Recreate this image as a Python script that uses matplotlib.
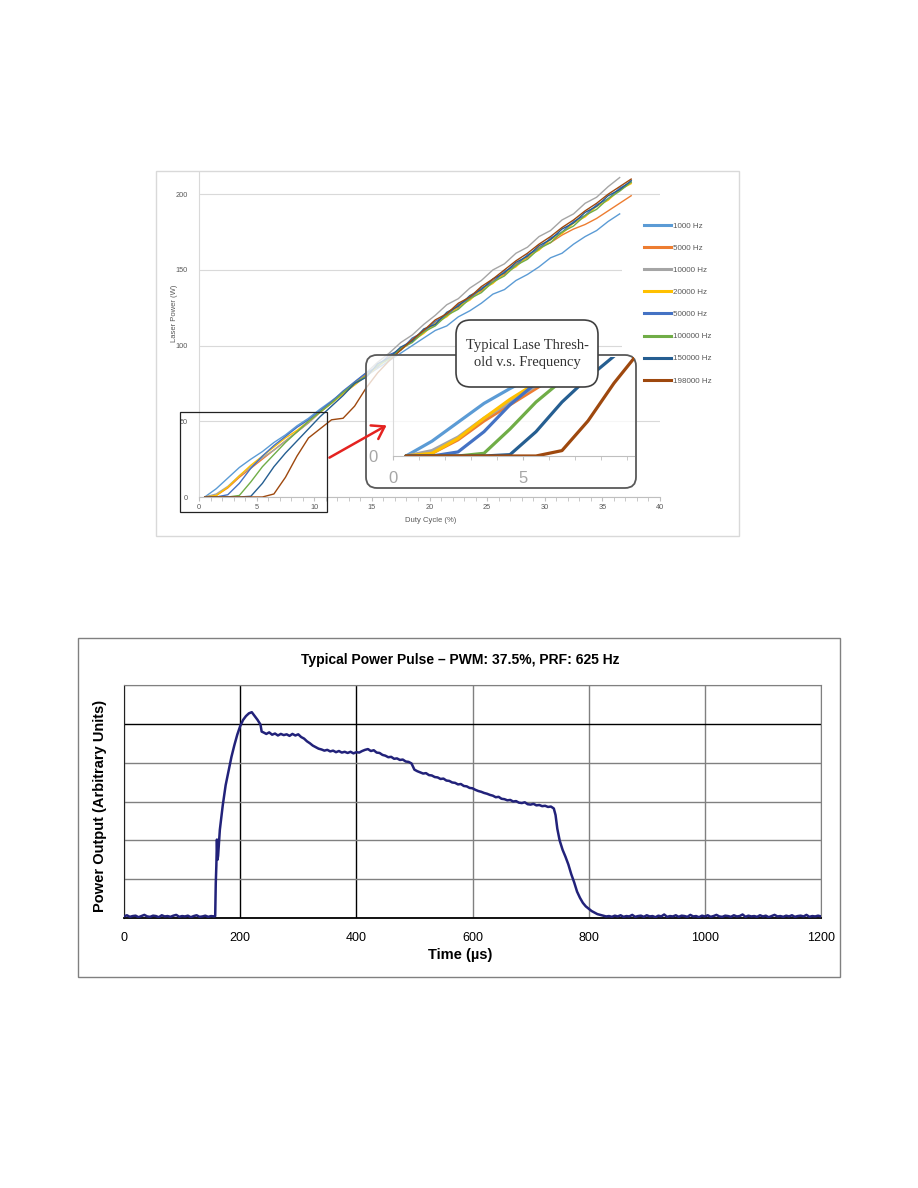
import numpy as np
import matplotlib
matplotlib.use("Agg")
import matplotlib.pyplot as plt
from matplotlib.patches import Rectangle, FancyBboxPatch, FancyArrowPatch

plt.rcParams['font.family'] = ['Liberation Sans', 'DejaVu Sans']

# ---------------- data: lase threshold vs frequency ----------------
duty = [0.5, 1.5, 2.5, 3.5, 4.5, 5.5, 6.5, 7.5, 8.5, 9.5, 10.5, 11.5, 12.5,
        13.5, 14.5, 15.5, 16.5, 17.5, 18.5, 19.5, 20.5, 21.5, 22.5, 23.5,
        24.5, 25.5, 26.5, 27.5, 28.5, 29.5, 30.5, 31.5, 32.5, 33.5, 34.5,
        35.5, 36.5, 37.5]

hz1000 = [0, 5.5, 12.5, 19.5, 25, 30, 36, 41, 47, 52, 58, 63.5, 69, 74, 80,
          85, 90, 95, 100, 105, 110, 113, 119, 123, 128, 134, 137, 143, 147,
          152, 158, 161, 167, 172, 176, 182, 187]
hz5000 = [0, 1, 6, 13, 19, 25, 31, 37, 43, 49, 56, 62, 69, 75, 81, 86, 93, 98,
          103, 110, 114, 121, 125, 132, 136, 143, 147, 154, 158, 165, 168, 173,
          177, 180, 184, 189, 194, 199]
hz10000 = [0, 2, 7, 14, 20, 26, 31, 37, 43, 49, 56, 63, 69, 76, 82, 89, 95, 102,
           107, 114, 120, 127, 131, 138, 143, 150, 154, 161, 165, 172, 176, 183,
           187, 194, 198, 205, 211]
hz20000 = [0, 1, 6.5, 14, 21, 27, 33, 39, 44, 50, 56, 62, 68, 74, 80, 86, 92, 97,
           103, 108, 115, 119, 126, 130, 137, 141, 148, 152, 159, 163, 170, 174,
           181, 185, 192, 196, 203, 207]
hz50000 = [0, 0, 1.5, 9, 19, 27, 34, 40, 46, 51, 57, 63, 70, 76, 82, 86, 94, 97,
           105, 109, 116, 120, 127, 131, 138, 142, 149, 153, 160, 164, 171, 175,
           182, 186, 193, 197, 204, 208]
hz100000 = [0, 0, 0, 1, 10, 20, 28, 36, 43, 50, 56, 62, 69, 75, 80, 87, 91, 98,
            102, 109, 113, 120, 124, 131, 135, 142, 146, 153, 157, 164, 168, 175,
            179, 186, 190, 197, 202, 208]
hz150000 = [0, 0, 0, 0, 0.5, 9, 20, 29, 37, 45, 53, 60, 67, 75, 79, 88, 92, 99,
            103, 111, 114, 122, 126, 133, 137, 144, 148, 155, 159, 166, 170, 177,
            181, 188, 192, 199, 203, 209]
hz198000 = [0, 0, 0, 0, 0, 0, 2, 13, 27, 39, 45, 51, 52, 60, 72, 82, 90, 97,
            104, 110, 117, 121, 128, 132, 139, 144, 150, 156, 161, 167, 172, 178,
            183, 189, 194, 200, 205, 210]

labels = ['1000 Hz', '5000 Hz', '10000 Hz', '20000 Hz', '50000 Hz',
          '100000 Hz', '150000 Hz', '198000 Hz']
series = [hz1000, hz5000, hz10000, hz20000, hz50000, hz100000, hz150000, hz198000]
colors = ['#5B9BD5', '#ED7D31', '#A5A5A5', '#FFC000', '#4472C4',
          '#70AD47', '#255E91', '#9E480E']

# ---------------- data: typical power pulse ----------------
p_pre = [0.04, 0.07, 0.03, 0.05, 0.06, 0.02, 0.05, 0.08, 0.04, 0.03, 0.06, 0.05,
         0.02, 0.07, 0.04, 0.05, 0.03, 0.06, 0.08, 0.03, 0.05, 0.04, 0.06, 0.02,
         0.05, 0.07, 0.03, 0.04, 0.06, 0.03, 0.05, 0.04]          # 0..155 us
t_rise = [157, 158, 159, 160, 161, 162, 165, 170, 175, 180, 185, 190, 195, 200,
          205, 210, 215, 220, 225, 230, 235, 237]
p_rise = [0.05, 0.9, 1.35, 2.02, 1.5, 1.6, 2.27, 2.9, 3.42, 3.78, 4.15, 4.45,
          4.72, 4.94, 5.10, 5.20, 5.27, 5.30, 5.20, 5.10, 4.98, 4.80]
p_top = [4.78, 4.74, 4.78, 4.72, 4.75, 4.70, 4.74, 4.71, 4.73, 4.69, 4.74, 4.70,
         4.73, 4.66, 4.62, 4.55, 4.50, 4.44, 4.40, 4.36, 4.34, 4.31, 4.33, 4.29,
         4.31, 4.27, 4.30, 4.26, 4.28, 4.25, 4.28, 4.24, 4.27, 4.26, 4.30, 4.33,
         4.35, 4.30, 4.32, 4.26, 4.25, 4.20, 4.18, 4.14, 4.15, 4.10, 4.11, 4.07,
         4.08, 4.03, 4.02, 3.98, 3.82, 3.78, 3.75, 3.72, 3.73, 3.68, 3.67, 3.63,
         3.62, 3.58, 3.59, 3.54, 3.53, 3.49, 3.48, 3.44, 3.45, 3.40, 3.39, 3.35,
         3.34, 3.30, 3.27, 3.25, 3.22, 3.20, 3.17, 3.15, 3.11, 3.12, 3.07, 3.06,
         3.03, 3.04, 3.00, 3.01, 2.97, 2.96, 2.98, 2.93, 2.92, 2.94, 2.90, 2.91,
         2.88, 2.89, 2.86, 2.87, 2.82]                              # 240..740 us
t_fall = [743, 746, 750, 755, 760, 765, 770, 775, 780, 785, 790, 795, 800, 805,
          810, 815, 820, 825, 830]
p_fall = [2.65, 2.30, 2.00, 1.76, 1.58, 1.38, 1.13, 0.92, 0.68, 0.52, 0.39, 0.30,
          0.24, 0.18, 0.14, 0.10, 0.08, 0.06, 0.04]
p_post = [0.05, 0.03, 0.06, 0.04, 0.07, 0.03, 0.05, 0.04, 0.08, 0.03, 0.05, 0.06,
          0.03, 0.07, 0.04, 0.05, 0.02, 0.06, 0.04, 0.09, 0.03, 0.05, 0.04, 0.07,
          0.03, 0.06, 0.05, 0.03, 0.08, 0.04, 0.05, 0.02, 0.06, 0.04, 0.07, 0.03,
          0.05, 0.08, 0.04, 0.03, 0.06, 0.05, 0.03, 0.07, 0.04, 0.05, 0.09, 0.03,
          0.06, 0.04, 0.05, 0.03, 0.07, 0.04, 0.06, 0.02, 0.05, 0.08, 0.04, 0.05,
          0.03, 0.06, 0.04, 0.07, 0.03, 0.05, 0.06, 0.04, 0.08, 0.03, 0.05, 0.04,
          0.06, 0.04]                                                # 835..1200 us

t_us = (list(range(0, 160, 5)) + t_rise + list(range(240, 745, 5)) + t_fall
        + list(range(835, 1205, 5)))
power = p_pre + p_rise + p_top + p_fall + p_post

# ---------------- figure ----------------
W, H = 918, 1188
fig = plt.figure(figsize=(W / 100, H / 100), dpi=100)


def fx(px):
    return px / W


def fy(py):
    return 1 - py / H


# top chart frame
fig.add_artist(Rectangle((fx(156), fy(536)), fx(739) - fx(156), fy(171) - fy(536),
                         transform=fig.transFigure, fill=False,
                         edgecolor='#D9D9D9', lw=1))

ax1 = fig.add_axes([fx(199), fy(497), fx(660) - fx(199), fy(171.5) - fy(497)])
for vals, c, lab in zip(series, colors, labels):
    ax1.plot(duty[:len(vals)], vals, color=c, lw=1.0, label=lab, zorder=2)
ax1.set_xlim(0, 40)
ax1.set_ylim(0, 215)
ax1.set_xticks(range(0, 41, 5))
ax1.set_xticks(range(0, 41), minor=True)
ax1.set_yticks([0, 50, 100, 150, 200])
ax1.yaxis.grid(True, color='#D9D9D9', lw=0.8)
ax1.set_axisbelow(True)
for s in ['top', 'right']:
    ax1.spines[s].set_visible(False)
ax1.spines['left'].set_color('#D9D9D9')
ax1.spines['bottom'].set_color('#BFBFBF')
ax1.tick_params(axis='y', length=0, pad=8, labelsize=5.3, labelcolor='#595959')
ax1.tick_params(axis='x', which='both', length=3, color='#BFBFBF', pad=2,
                labelsize=5.3, labelcolor='#595959')
fig.text(fx(174), fy(313), 'Laser Power (W)', rotation=90, ha='center',
         va='center', fontsize=5.5, color='#595959')
fig.text(fx(431), fy(520), 'Duty Cycle (%)', ha='center', va='center',
         fontsize=5.5, color='#595959')

# legend background
ax1.add_patch(Rectangle((fx(622), fy(392)), fx(740) - fx(622), fy(205) - fy(392),
                        transform=fig.transFigure, facecolor='white',
                        edgecolor='none', zorder=1.5, clip_on=False))
leg = ax1.legend(loc='upper left', bbox_to_anchor=(fx(644), fy(222)),
                 bbox_transform=fig.transFigure, frameon=False, fontsize=5.8,
                 handlelength=3.3, handletextpad=0.25, labelspacing=1.8,
                 borderaxespad=0, borderpad=0, labelcolor='#595959')
for h in leg.legend_handles:
    h.set_linewidth(2.2)

# zoom source rectangle
ax1.add_patch(Rectangle((-1.65, -9.9), 12.73, 66, fill=False, edgecolor='#222222',
                        lw=0.9, clip_on=False, zorder=3))

# rounded inset box
ax1.add_patch(FancyBboxPatch((fx(366), fy(488)), fx(636) - fx(366), fy(355) - fy(488),
                             boxstyle='round,pad=0,rounding_size=0.012',
                             mutation_aspect=W / H, transform=fig.transFigure,
                             facecolor=(1, 1, 1, 0.78), edgecolor='#595959',
                             lw=1.3, clip_on=False, zorder=4))

# red arrow
fig.add_artist(FancyArrowPatch((fx(327), fy(459)), (fx(389), fy(424)),
                               transform=fig.transFigure, arrowstyle='->,head_length=0.6,head_width=0.4',
                               mutation_scale=14, color='#E42320', lw=1.8))

# inset axes
ax2 = fig.add_axes([fx(393), fy(456), fx(634) - fx(393), fy(357) - fy(456)])
ax2.set_zorder(2)
ax2.patch.set_alpha(0)
for vals, c in zip(series, colors):
    ax2.plot(duty[:len(vals)], vals, color=c, lw=2.3, solid_capstyle='round')
ax2.set_xlim(0, 9.27)
ax2.set_ylim(0, 36.7)
ax2.set_xticks([0, 5])
ax2.set_xticks(range(0, 10), minor=True)
ax2.set_yticks([0])
for s in ['top', 'right']:
    ax2.spines[s].set_visible(False)
ax2.spines['bottom'].set_color('#BFBFBF')
ax2.spines['left'].set_color('#D9D9D9')
ax2.tick_params(axis='x', which='both', length=3, color='#BFBFBF', pad=8,
                labelsize=12, labelcolor='#A6A6A6')
ax2.tick_params(axis='y', length=0, pad=11, labelsize=12, labelcolor='#A6A6A6')

# callout text box
fig.add_artist(FancyBboxPatch((fx(456), fy(387)), fx(598) - fx(456), fy(320) - fy(387),
                              boxstyle='round,pad=0,rounding_size=0.016',
                              mutation_aspect=W / H, transform=fig.transFigure,
                              facecolor='white', edgecolor='#404040', lw=1.2,
                              zorder=5))
fig.text(fx(527), fy(354), 'Typical Lase Thresh-\nold v.s. Frequency',
         ha='center', va='center', family='Liberation Serif', fontsize=10.5,
         color='#333333', linespacing=1.35, zorder=6)

# ---------------- bottom chart ----------------
fig.add_artist(Rectangle((fx(78), fy(977)), fx(840) - fx(78), fy(638) - fy(977),
                         transform=fig.transFigure, fill=False,
                         edgecolor='#808080', lw=1))

ax3 = fig.add_axes([fx(124), fy(918), fx(821) - fx(124), fy(685) - fy(918)])
ax3.plot(t_us, power, color='#22227A', lw=1.8, zorder=3)
ax3.set_xlim(0, 1200)
ax3.set_ylim(0, 6)
ax3.set_xticks(range(0, 1201, 200))
ax3.set_yticks(range(0, 7))
ax3.set_yticklabels([])
ax3.grid(True, color='#808080', lw=1)
xg = ax3.get_xgridlines()
yg = ax3.get_ygridlines()
for i in (1, 2):
    xg[i].set_color('black')
yg[5].set_color('black')
ax3.tick_params(axis='both', length=0)
ax3.tick_params(axis='x', pad=10, labelsize=9)
ax3.spines['top'].set_color('#808080')
ax3.spines['right'].set_color('#808080')
ax3.spines['left'].set_color('#222222')
ax3.spines['bottom'].set_color('black')
ax3.spines['bottom'].set_linewidth(1.3)

fig.text(fx(460), fy(660), 'Typical Power Pulse \u2013 PWM: 37.5%, PRF: 625 Hz',
         ha='center', va='center', fontsize=10, fontweight='bold')
fig.text(fx(100), fy(806), 'Power Output (Arbitrary Units)', rotation=90,
         ha='center', va='center', fontsize=10.5, fontweight='bold')
fig.text(fx(460), fy(955), 'Time (\u00b5s)', ha='center', va='center',
         fontsize=10.5, fontweight='bold')

fig.savefig('out.png', dpi=100)
